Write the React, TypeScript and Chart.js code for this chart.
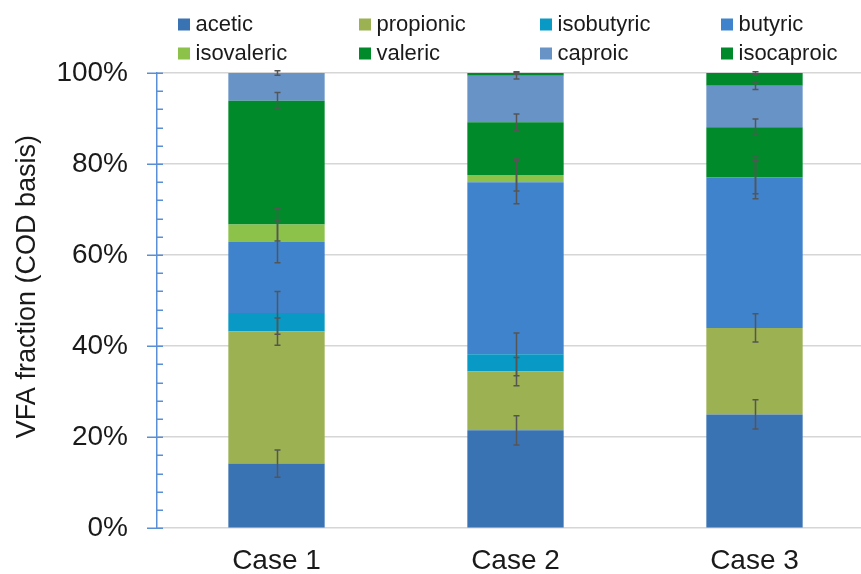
import React, { useEffect, useRef } from "react";
import { Chart, registerables } from "chart.js";

Chart.register(...registerables);

const FONT = '"Liberation Sans", Arial, Helvetica, sans-serif';
const TEXT = "#1a1a1a";
const AXIS_BLUE = "#5b8fd5";
const GRID = "#d6d6d6";
const ERR = "#555555";

const cases = ["Case 1", "Case 2", "Case 3"];
const acidNames = ["acetic", "propionic", "isobutyric", "butyric", "isovaleric", "valeric", "caproic", "isocaproic"];
const acidColors = ["#3a73b4", "#9bb152", "#0899c4", "#3f83cd", "#8cc14a", "#008a2a", "#6893c7", "#00892b"];

// fraction of total VFA (COD basis), %
const acetic = [14.2, 21.5, 25.0];
const propionic = [29.0, 12.9, 19.0];
const isobutyric = [4.1, 3.8, 0];
const butyric = [15.6, 37.8, 33.1];
const isovaleric = [3.8, 1.6, 0];
const valeric = [27.2, 11.6, 11.0];
const caproic = [6.1, 10.2, 9.1];
const isocaproic = [0, 0.6, 2.8];

// error bar half-lengths, %
const aceticErr = [3.0, 3.2, 3.2];
const propionicErr = [3.0, 3.1, 3.1];
const isobutyricErr = [4.7, 4.7, 0];
const butyricErr = [4.6, 4.7, 4.7];
const isovalericErr = [3.6, 3.5, 3.6];
const valericErr = [1.8, 1.8, 1.8];
const caproicErr = [0.5, 0.7, 0.8];
const isocaproicErr = [0, 0.3, 0.3];

const yTicks = [0, 20, 40, 60, 80, 100];
const yMinorStep = 4;

const seriesValues = [acetic, propionic, isobutyric, butyric, isovaleric, valeric, caproic, isocaproic];
const seriesErrors = [aceticErr, propionicErr, isobutyricErr, butyricErr, isovalericErr, valericErr, caproicErr, isocaproicErr];

// two-row, four-column legend above the plot
const gridLegend = {
  id: "gridLegend",
  afterDraw(chart: any) {
    const { ctx, chartArea } = chart;
    ctx.save();
    ctx.font = `22px ${FONT}`;
    ctx.textBaseline = "middle";
    ctx.textAlign = "left";
    chart.data.datasets.forEach((ds: any, i: number) => {
      const col = i % 4;
      const row = Math.floor(i / 4);
      const x = chartArea.left + 21 + col * 181;
      const y = 24.5 + row * 29;
      ctx.fillStyle = ds.backgroundColor;
      ctx.fillRect(x, y - 6, 12, 12);
      ctx.fillStyle = TEXT;
      ctx.fillText(ds.label, x + 17.5, y);
    });
    ctx.restore();
  },
};

// y-axis tick marks: major ticks cross the axis, minor ticks point inward
const axisTicks = {
  id: "axisTicks",
  afterDraw(chart: any) {
    const { ctx, chartArea } = chart;
    const y = chart.scales.y;
    const ax = chartArea.left;
    ctx.save();
    ctx.strokeStyle = AXIS_BLUE;
    ctx.lineWidth = 1.5;
    for (let v = 0; v <= 100; v += yMinorStep) {
      const py = Math.round(y.getPixelForValue(v)) + 0.25;
      const major = yTicks.includes(v);
      ctx.beginPath();
      ctx.moveTo(major ? ax - 10 : ax, py);
      ctx.lineTo(ax + 6, py);
      ctx.stroke();
    }
    // rotated axis title
    ctx.fillStyle = TEXT;
    ctx.font = `27px ${FONT}`;
    ctx.textAlign = "center";
    ctx.textBaseline = "middle";
    ctx.translate(27.5, (chartArea.top + chartArea.bottom) / 2 - 14);
    ctx.rotate(-Math.PI / 2);
    ctx.fillText("VFA fraction (COD basis)", 0, 0);
    ctx.restore();
  },
};

// error bars at the top of each stacked segment
const errorBars = {
  id: "errorBars",
  afterDatasetsDraw(chart: any) {
    const { ctx } = chart;
    const y = chart.scales.y;
    ctx.save();
    ctx.strokeStyle = ERR;
    ctx.lineWidth = 1.5;
    chart.data.datasets.forEach((ds: any, d: number) => {
      const meta = chart.getDatasetMeta(d);
      meta.data.forEach((bar: any, j: number) => {
        const e = ds.errors[j];
        if (!e) return;
        const half = Math.abs(y.getPixelForValue(0) - y.getPixelForValue(e));
        const x = Math.round(bar.x) + 0.5;
        const y1 = bar.y - half;
        const y2 = bar.y + half;
        ctx.beginPath();
        ctx.moveTo(x, y1);
        ctx.lineTo(x, y2);
        ctx.moveTo(x - 3, y1);
        ctx.lineTo(x + 3, y1);
        ctx.moveTo(x - 3, y2);
        ctx.lineTo(x + 3, y2);
        ctx.stroke();
      });
    });
    ctx.restore();
  },
};

export default function App() {
  const ref = useRef<HTMLCanvasElement | null>(null);

  useEffect(() => {
    document.body.style.overflow = "hidden";
    const canvas = ref.current;
    if (!canvas) return;
    const chart = new Chart(canvas, {
      type: "bar",
      data: {
        labels: cases,
        datasets: acidNames.map((name, i) => ({
          label: name,
          data: seriesValues[i],
          errors: seriesErrors[i],
          backgroundColor: acidColors[i],
          borderWidth: 0,
          barPercentage: 0.403,
          categoryPercentage: 1,
        })) as any,
      },
      options: {
        animation: false,
        responsive: false,
        devicePixelRatio: 1,
        layout: { padding: { top: 73, right: 6, left: 0, bottom: 0 } },
        plugins: {
          legend: { display: false },
          tooltip: { enabled: false },
        },
        scales: {
          x: {
            stacked: true,
            grid: { display: false, drawTicks: false },
            border: { display: false },
            ticks: {
              color: TEXT,
              font: { family: FONT, size: 28 },
              padding: 16,
              maxRotation: 0,
            },
            afterFit: (s: any) => {
              s.height = 44;
            },
          },
          y: {
            stacked: true,
            min: 0,
            max: 100,
            grid: { color: GRID, lineWidth: 1.5, drawTicks: false },
            border: { display: true, color: AXIS_BLUE, width: 1.5 },
            ticks: {
              stepSize: 20,
              color: TEXT,
              padding: 29,
              font: { family: FONT, size: 28 },
              callback: (v: any) => `${v}%`,
            },
            afterFit: (s: any) => {
              s.width = 157;
            },
          },
        },
      },
      plugins: [errorBars, gridLegend, axisTicks],
    });
    return () => chart.destroy();
  }, []);

  return (
    <div style={{ position: "fixed", left: 0, top: 0, width: 880, height: 574, background: "#fff" }}>
      <canvas ref={ref} width={880} height={574} />
    </div>
  );
}
